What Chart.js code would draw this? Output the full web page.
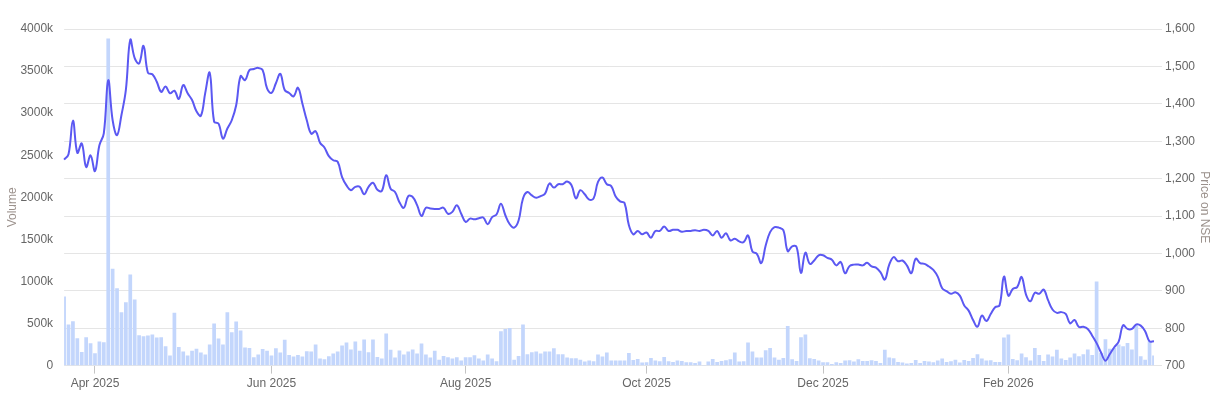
<!DOCTYPE html>
<html>
<head>
<meta charset="utf-8">
<script src="https://cdn.jsdelivr.net/npm/chart.js@4.4.1/dist/chart.umd.min.js"></script>
<style>
  html, body { margin: 0; padding: 0; background: #fff; }
  #wrap { width: 1221px; height: 399px; position: relative; }
</style>
</head>
<body>
<div id="wrap"><canvas id="chart"></canvas></div>
<script>
// months on the axis and how many trading days (bars) fall in each
const months = ["Mar 2025", "Apr 2025", "May 2025", "Jun 2025", "Jul 2025", "Aug 2025", "Sep 2025",
  "Oct 2025", "Nov 2025", "Dec 2025", "Jan 2026", "Feb 2026", "Mar 2026"];
const tradingDays = [7, 19, 21, 21, 23, 19, 22, 21, 19, 22, 20, 20, 14];
const shownMonths = ["Apr 2025", "Jun 2025", "Aug 2025", "Oct 2025", "Dec 2025", "Feb 2026"];

// daily volume, thousands of shares
const volume = [820, 488, 527, 325, 163, 337, 266, 147, 286, 278,
  3888, 1150, 920, 635, 754, 1083, 785, 361, 349, 357,
  369, 333, 337, 230, 119, 627, 222, 167, 119, 175,
  200, 155, 131, 250, 500, 321, 250, 635, 397, 524,
  417, 214, 210, 99, 131, 198, 175, 119, 206, 155,
  306, 127, 107, 127, 107, 171, 167, 250, 83, 75,
  111, 143, 167, 238, 274, 190, 286, 175, 309, 159,
  309, 103, 83, 381, 187, 95, 178, 131, 167, 190,
  143, 262, 131, 95, 175, 71, 115, 99, 83, 99,
  60, 99, 99, 123, 83, 60, 131, 83, 52, 409,
  436, 448, 71, 115, 488, 135, 159, 167, 143, 167,
  167, 206, 135, 135, 95, 87, 87, 71, 48, 60,
  52, 131, 107, 155, 60, 60, 60, 60, 151, 67,
  79, 36, 40, 91, 60, 52, 103, 52, 44, 60,
  56, 40, 40, 32, 48, 8, 48, 79, 44, 56,
  63, 75, 155, 48, 52, 274, 167, 95, 95, 182,
  210, 95, 71, 91, 472, 75, 56, 337, 369, 87,
  79, 60, 40, 40, 20, 40, 32, 60, 63, 48,
  75, 56, 56, 63, 56, 32, 187, 95, 87, 44,
  36, 24, 32, 67, 32, 56, 48, 40, 60, 83,
  44, 52, 71, 36, 67, 56, 91, 135, 83, 60,
  63, 44, 44, 335, 369, 79, 63, 143, 99, 60,
  210, 127, 56, 131, 107, 187, 83, 67, 95, 143,
  111, 135, 190, 127, 1000, 150, 313, 200, 210, 250,
  230, 270, 190, 476, 111, 71, 290, 119];

// closing price on NSE
const price = [1251, 1265, 1355, 1269, 1294, 1231, 1262, 1220, 1289, 1321,
  1463, 1356, 1316, 1370, 1437, 1571, 1522, 1508, 1555, 1483,
  1479, 1459, 1432, 1446, 1428, 1435, 1413, 1450, 1428, 1410,
  1380, 1368, 1430, 1483, 1352, 1347, 1307, 1334, 1356, 1396,
  1474, 1463, 1490, 1493, 1496, 1490, 1441, 1429, 1455, 1480,
  1437, 1429, 1420, 1443, 1401, 1356, 1320, 1327, 1296, 1283,
  1260, 1249, 1245, 1204, 1182, 1169, 1178, 1178, 1158, 1178,
  1189, 1170, 1167, 1209, 1173, 1164, 1137, 1122, 1153, 1151,
  1129, 1100, 1122, 1120, 1119, 1119, 1122, 1106, 1111, 1129,
  1106, 1084, 1093, 1091, 1094, 1096, 1078, 1097, 1104, 1133,
  1102, 1078, 1069, 1088, 1147, 1164, 1155, 1149, 1153, 1160,
  1187, 1176, 1185, 1185, 1192, 1182, 1147, 1169, 1158, 1144,
  1147, 1191, 1203, 1185, 1180, 1152, 1139, 1135, 1075, 1051,
  1060, 1051, 1056, 1042, 1060, 1060, 1072, 1060, 1063, 1063,
  1058, 1060, 1060, 1062, 1060, 1063, 1060, 1048, 1060, 1042,
  1054, 1035, 1039, 1032, 1030, 1048, 1005, 999, 974, 1021,
  1057, 1070, 1069, 1062, 1006, 1019, 1017, 948, 1002, 972,
  981, 995, 995, 988, 983, 968, 977, 947, 966, 970,
  970, 968, 975, 965, 962, 950, 930, 970, 990, 979,
  981, 968, 947, 986, 974, 972, 965, 956, 938, 907,
  899, 892, 896, 887, 861, 847, 822, 804, 834, 819,
  838, 856, 861, 938, 887, 905, 910, 937, 890, 872,
  895, 892, 903, 875, 850, 841, 843, 838, 813, 822,
  803, 804, 798, 780, 760, 735, 713, 731, 749, 764,
  808, 798, 798, 810, 807, 792, 765, 765];

// one label per bar, the month it belongs to
const labels = [];
const firstOfMonth = {};
months.forEach((m, k) => {
  firstOfMonth[labels.length] = m;
  for (let d = 0; d < tradingDays[k]; d++) labels.push(m);
});
const isShown = (i) => firstOfMonth[i] !== undefined && shownMonths.includes(firstOfMonth[i]);

Chart.defaults.font.family = "'Helvetica Neue', Helvetica, Arial, sans-serif";
Chart.defaults.font.size = 12;
Chart.defaults.color = "#666";

new Chart(document.getElementById("chart").getContext("2d"), {
  type: "bar",
  data: {
    labels: labels,
    datasets: [
      {
        type: "line",
        label: "Price",
        data: price,
        yAxisID: "y1",
        borderColor: "#5b58f2",
        borderWidth: 2,
        pointRadius: 0,
        tension: 0.4,
        fill: false,
        order: 0
      },
      {
        type: "bar",
        label: "Volume",
        data: volume,
        yAxisID: "y",
        backgroundColor: "#c3d6fc",
        categoryPercentage: 1,
        barPercentage: 0.84,
        order: 1
      }
    ]
  },
  options: {
    responsive: true,
    maintainAspectRatio: false,
    animation: false,
    layout: {
      padding: { top: 29, right: 0.6, bottom: 5, left: -5 }
    },
    plugins: {
      legend: { display: false },
      tooltip: { enabled: false }
    },
    scales: {
      x: {
        offset: false,
        // keep only the first trading day of every other month as a tick
        afterBuildTicks: (scale) => {
          scale.ticks = scale.ticks.filter((t) => isShown(t.value));
        },
        grid: { offset: false, drawOnChartArea: false, tickLength: 8, tickColor: "#c4c4c4" },
        border: { display: false },
        ticks: {
          autoSkip: false,
          maxRotation: 0,
          minRotation: 0,
          callback: (value) => firstOfMonth[value]
        }
      },
      y: {
        position: "left",
        min: 0,
        max: 4000,
        grid: { display: false },
        border: { display: false },
        ticks: {
          stepSize: 500,
          callback: (v) => v === 0 ? "0" : v + "k"
        },
        title: {
          display: true,
          text: "Volume      ",
          color: "#9b918c",
          padding: { top: 10, bottom: -2 }
        }
      },
      y1: {
        position: "right",
        min: 700,
        max: 1600,
        border: { display: false },
        ticks: { stepSize: 100 },
        title: {
          display: true,
          text: "      Price on NSE",
          color: "#9b918c",
          padding: { top: 9, bottom: -1 }
        }
      }
    }
  }
});
</script>
</body>
</html>
